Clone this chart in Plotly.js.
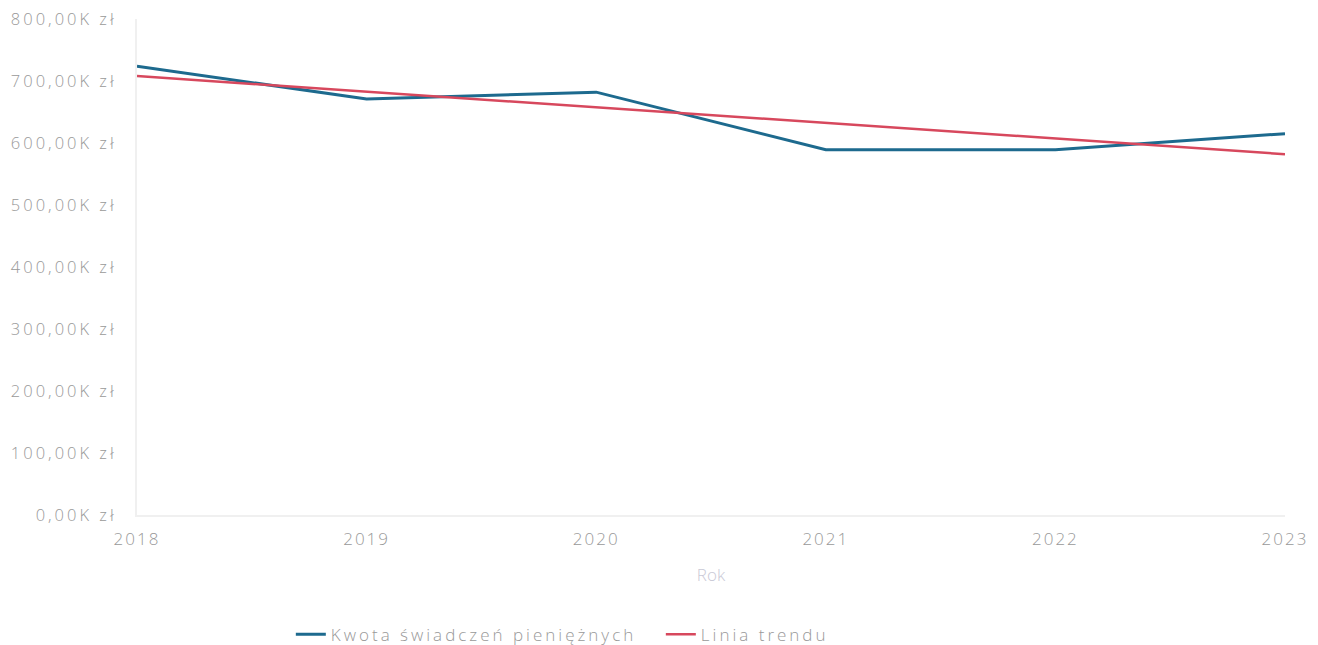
<!DOCTYPE html>
<html>
<head>
<meta charset="utf-8">
<script src="https://cdn.plot.ly/plotly-3.0.1.min.js"></script>
<style>
html,body{margin:0;padding:0;background:#fff;}
#chart{width:1318px;height:645px;}
#chart .xtick text {letter-spacing: 2px;}
#chart .ytick text {letter-spacing: 3px;}
#chart .legendtext {letter-spacing: 3px;}
</style>
</head>
<body>
<div id="chart"></div>
<script>
const years = [2018, 2019, 2020, 2021, 2022, 2023];
const kwota = [724000, 671000, 682000, 589000, 589000, 615000];
const trend = [708000, 683000, 658000, 632000, 607000, 582000];
const yTickVals = [0, 100000, 200000, 300000, 400000, 500000, 600000, 700000, 800000];
const yTickText = ['0,00K zł', '100,00K zł', '200,00K zł', '300,00K zł', '400,00K zł', '500,00K zł', '600,00K zł', '700,00K zł', '800,00K zł'];
const xTickText = ['2018', '2019', '2020', '2021', '2022', '2023'];

const data = [
  {x: years, y: kwota, type: 'scatter', mode: 'lines', name: 'Kwota świadczeń pieniężnych',
   line: {color: '#1d6a8e', width: 3}},
  {x: years, y: trend, type: 'scatter', mode: 'lines', name: 'Linia trendu',
   line: {color: '#d7485d', width: 2.5}}
];
const layout = {
  width: 1318, height: 645,
  margin: {l: 137, r: 33, t: 19, b: 130, autoexpand: false},
  paper_bgcolor: '#fff', plot_bgcolor: '#fff',
  font: {family: 'Open Sans, sans-serif', color: '#999', size: 16, weight: 300},
  showlegend: true,
  legend: {orientation: 'h', x: 0.134, xanchor: 'left', y: -0.205, yanchor: 'top',
    entrywidth: 325, entrywidthmode: 'pixels',
    font: {family: 'Open Sans, sans-serif', size: 17, color: '#999', weight: 300}, itemwidth: 30},
  xaxis: {
    range: [2018, 2023], tickvals: years, ticktext: xTickText,
    showgrid: false, zeroline: false, showline: true, linecolor: '#f0f0f0', linewidth: 2,
    ticks: '', ticklabelstandoff: 8,
    tickfont: {family: 'Open Sans, sans-serif', size: 17, color: '#999', weight: 300},
    title: {text: 'Rok', font: {family: 'Open Sans, sans-serif', size: 17, color: '#c9c9d6'}, standoff: 20}
  },
  yaxis: {
    range: [0, 800000], tickvals: yTickVals, ticktext: yTickText,
    showgrid: false, zeroline: false, showline: true, linecolor: '#f0f0f0', linewidth: 2,
    ticks: '', ticklabelstandoff: 15,
    tickfont: {family: 'Open Sans, sans-serif', size: 16.5, color: '#999', weight: 300}
  }
};
Plotly.newPlot('chart', data, layout, {displayModeBar: false, staticPlot: true});
</script>
</body>
</html>
